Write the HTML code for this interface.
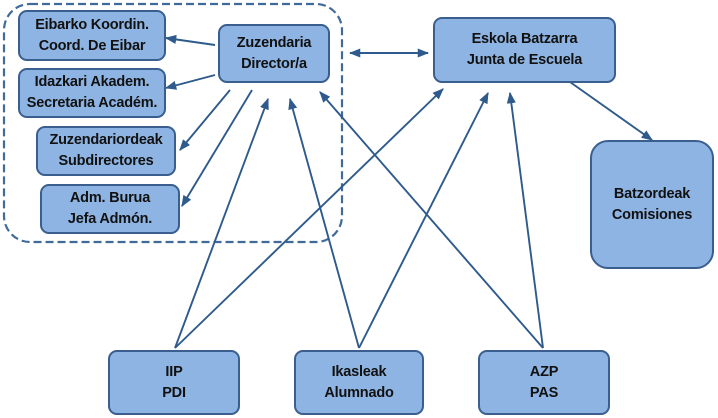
<!DOCTYPE html>
<html><head><meta charset="utf-8"><style>
body{margin:0;background:#fff;}
.b{position:absolute;background:#8eb4e3;border:2px solid #3a5f8f;border-radius:9px;box-sizing:border-box;display:flex;align-items:center;justify-content:center;text-align:center;font:bold 14.5px/21px "Liberation Sans",sans-serif;color:#111;letter-spacing:-0.2px;}
</style></head><body>
<div style="position:relative;width:718px;height:418px;overflow:hidden">
<svg width="718" height="418" style="position:absolute;left:0;top:0">
<defs><marker id="a" viewBox="0 0 10 10" refX="9" refY="5" markerWidth="6" markerHeight="6" orient="auto-start-reverse"><path d="M0,1L10,5L0,9z" fill="#2e5a8c"/></marker></defs>
<rect x="4" y="4" width="338" height="238" rx="26" fill="none" stroke="#3f6a9a" stroke-width="2.2" stroke-dasharray="8,4"/>
<g stroke="#2e5a8c" stroke-width="1.9" fill="none" marker-end="url(#a)">
<line x1="215" y1="45" x2="166" y2="38"/>
<line x1="215" y1="75" x2="166" y2="88"/>
<line x1="230" y1="90" x2="180" y2="150"/>
<line x1="252" y1="90" x2="182" y2="206"/>
<line x1="350" y1="53" x2="428" y2="53" marker-start="url(#a)"/>
<line x1="570" y1="82" x2="652" y2="140"/>
<line x1="175" y1="348" x2="268" y2="99"/>
<line x1="175" y1="348" x2="443" y2="89"/>
<line x1="359" y1="348" x2="290" y2="99"/>
<line x1="359" y1="348" x2="488" y2="93"/>
<line x1="543" y1="348" x2="320" y2="92"/>
<line x1="543" y1="348" x2="510" y2="93"/>
</g></svg>
<div class="b" style="left:18px;top:10px;width:148px;height:51px">Eibarko Koordin.<br>Coord. De Eibar</div>
<div class="b" style="left:18px;top:68px;width:148px;height:50px">Idazkari Akadem.<br>Secretaria Académ.</div>
<div class="b" style="left:36px;top:126px;width:140px;height:50px">Zuzendariordeak<br>Subdirectores</div>
<div class="b" style="left:40px;top:184px;width:140px;height:50px">Adm. Burua<br>Jefa Admón.</div>
<div class="b" style="left:218px;top:24px;width:112px;height:59px">Zuzendaria<br>Director/a</div>
<div class="b" style="left:433px;top:17px;width:183px;height:66px">Eskola Batzarra<br>Junta de Escuela</div>
<div class="b" style="left:590px;top:140px;width:124px;height:129px;border-radius:18px">Batzordeak<br>Comisiones</div>
<div class="b" style="left:108px;top:350px;width:132px;height:65px">IIP<br>PDI</div>
<div class="b" style="left:294px;top:350px;width:130px;height:65px">Ikasleak<br>Alumnado</div>
<div class="b" style="left:478px;top:350px;width:132px;height:65px">AZP<br>PAS</div>
</div></body></html>
